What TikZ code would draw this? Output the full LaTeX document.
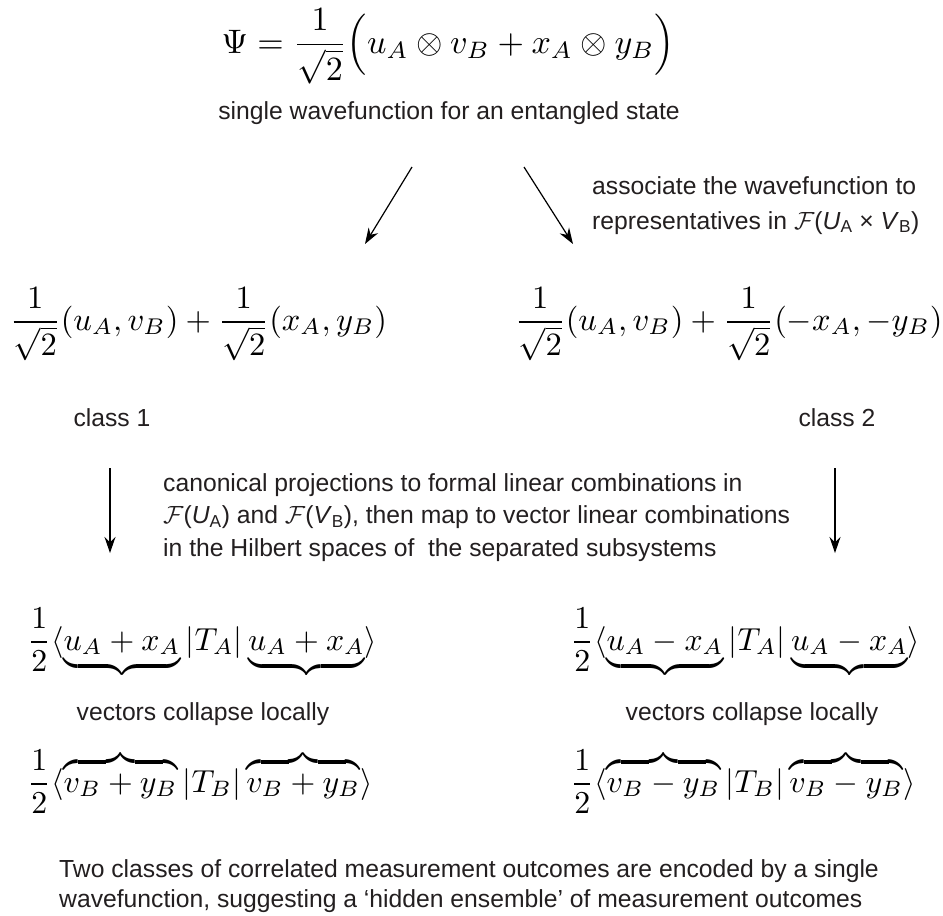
\documentclass[tikz,border=0pt]{standalone}
\usepackage{fontspec}
\setmainfont{Liberation Sans}
\usetikzlibrary{arrows.meta}
\definecolor{ink}{HTML}{231F20}
\tikzset{
  txt/.style={text=ink, inner sep=0pt, font=\fontsize{24.7}{28}\selectfont},
  mth/.style={text=black, inner sep=0pt, scale=3.25, transform shape},
  arr/.style={draw=black, line width=1.2pt, -{Stealth[length=16pt,width=11pt]}},
}
\newcommand{\Fs}{$\mathcal{F}$}
\begin{document}
\begin{tikzpicture}[x=1pt,y=-1pt]
\useasboundingbox[fill=white] (0,0) rectangle (943,916);
% top
\node[mth, scale=1.045, anchor=base west] (psi) at (221,53) {$\displaystyle\Psi=\frac{1}{\sqrt2}\Bigl(u_A\otimes v_B+x_A\otimes y_B\Bigr)$};
\node[txt, anchor=base] (single) at (449,119) {single wavefunction for an entangled state};
% diagonal arrows
\coordinate (d1s) at (412,167);
\coordinate (d1e) at (365,244);
\coordinate (d2s) at (524,167);
\coordinate (d2e) at (573,244);
\draw[arr] (d1s) -- (d1e);
\draw[arr] (d2s) -- (d2e);
\node[txt, anchor=base west, align=left, font=\fontsize{24.7}{35}\selectfont] (assoc) at (592,229) {associate the wavefunction to\\representatives in \Fs(\textit{U}\textsubscript{A} × \textit{V}\textsubscript{B})};
% classes
\node[mth, anchor=base west] (c1) at (9,330) {$\displaystyle\frac{1}{\sqrt2}(u_A,v_B)+\frac{1}{\sqrt2}(x_A,y_B)$};
\node[mth, anchor=base west] (c2) at (514,330) {$\displaystyle\frac{1}{\sqrt2}(u_A,v_B)+\frac{1}{\sqrt2}(-x_A,-y_B)$};
\node[txt, anchor=base] (cl1) at (112,426) {class 1};
\node[txt, anchor=base] (cl2) at (837,426) {class 2};
% down arrows
\coordinate (v1s) at (110,468);
\coordinate (v1e) at (110,553);
\coordinate (v2s) at (835,468);
\coordinate (v2e) at (835,553);
\draw[arr] (v1s) -- (v1e);
\draw[arr] (v2s) -- (v2e);
\node[txt, anchor=base west, align=left, font=\fontsize{24.7}{32.5}\selectfont] (canon) at (163,556) {canonical projections to formal linear combinations in\\\Fs(\textit{U}\textsubscript{A}) and \Fs(\textit{V}\textsubscript{B}), then map to vector linear combinations\\in the Hilbert spaces of\ \ the separated subsystems};
% bottom formulas
\node[mth, scale=0.98, anchor=base west] (l1) at (27,650) {$\displaystyle\frac{1}{2}\langle\underbrace{u_A+x_A}|T_A|\underbrace{u_A+x_A}\rangle$};
\node[txt, anchor=base] (lc) at (203,720) {vectors collapse locally};
\node[mth, scale=0.98, anchor=base west] (l2) at (27,792) {$\displaystyle\frac{1}{2}\langle\overbrace{v_B+y_B}|T_B|\overbrace{v_B+y_B}\rangle$};
\node[mth, scale=0.98, anchor=base west] (r1) at (570,650) {$\displaystyle\frac{1}{2}\langle\underbrace{u_A-x_A}|T_A|\underbrace{u_A-x_A}\rangle$};
\node[txt, anchor=base] (rc) at (752,720) {vectors collapse locally};
\node[mth, scale=0.98, anchor=base west] (r2) at (570,792) {$\displaystyle\frac{1}{2}\langle\overbrace{v_B-y_B}|T_B|\overbrace{v_B-y_B}\rangle$};
% bottom text
\node[txt, anchor=base west, align=left, font=\fontsize{24.7}{30}\selectfont] (concl) at (59,907) {Two classes of correlated measurement outcomes are encoded by a single\\wavefunction, suggesting a ‘hidden ensemble’ of measurement outcomes};
\end{tikzpicture}
\end{document}
